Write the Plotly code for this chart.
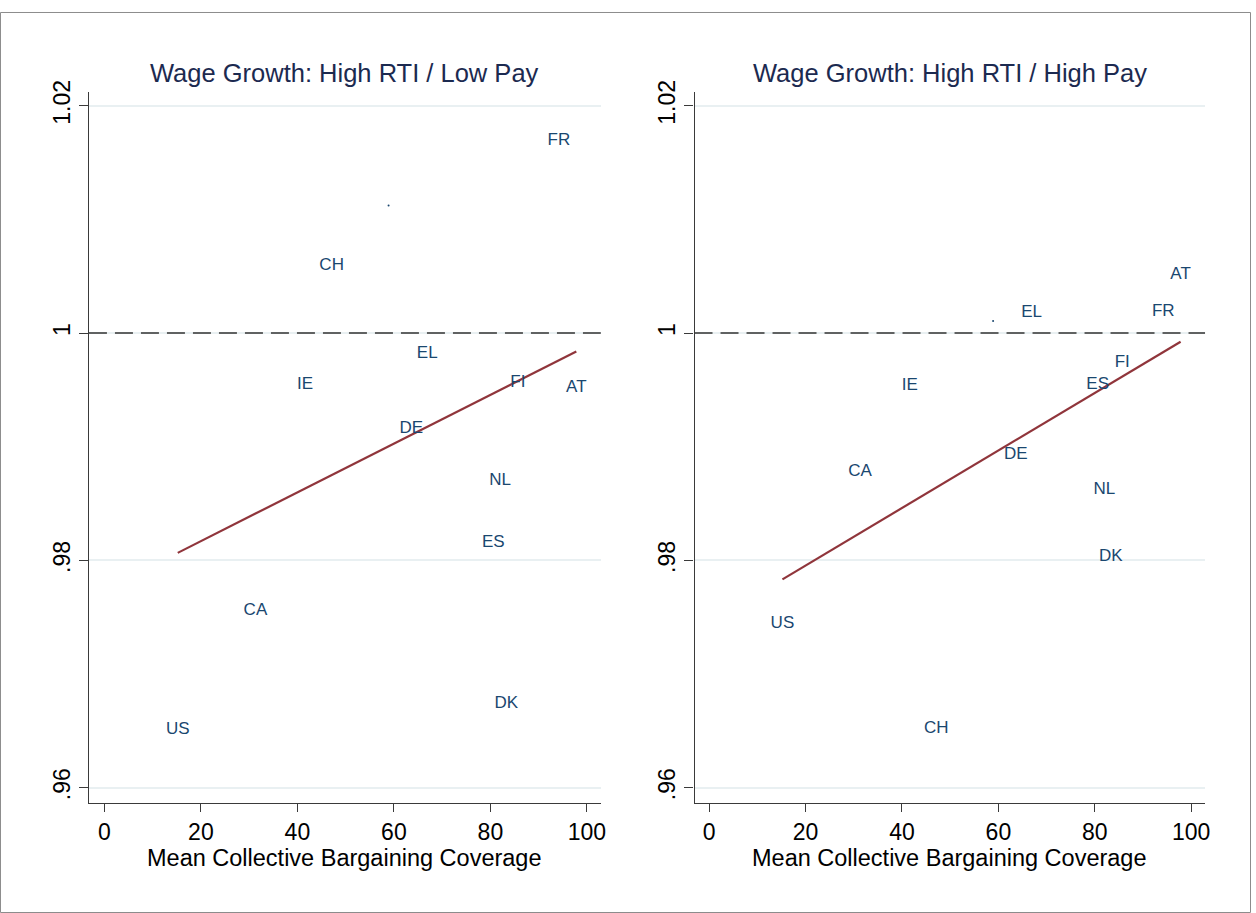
import plotly.graph_objects as go

# ---- data ----
countries = ["AT", "CA", "CH", "DE", "DK", "EL", "ES", "FI", "FR", "IE", "NL", "US"]
coverage = [97.8, 31.3, 47.1, 63.6, 83.3, 66.9, 80.6, 85.7, 94.2, 41.6, 82.0, 15.2]
wage_low_pay = [0.99516, 0.97554, 1.00593, 0.99160, 0.96738, 0.99820, 0.98153, 0.99560, 1.01696, 0.99542, 0.98700, 0.96513]
wage_high_pay = [1.00515, 0.98778, 0.96521, 0.98926, 0.98032, 1.00176, 0.99542, 0.99742, 1.00185, 0.99534, 0.98622, 0.97441]

# unlabeled observation (tiny dot)
unlabeled_cov = [58.9]
unlabeled_low = [1.01123]
unlabeled_high = [1.00107]

# fitted lines (endpoints)
fit_x = [15.2, 97.8]
fit_low = [0.98066, 0.99838]
fit_high = [0.97833, 0.99924]

titles = ["Wage Growth: High RTI / Low Pay", "Wage Growth: High RTI / High Pay"]
x_title = "Mean Collective Bargaining Coverage"
x_ticks = [0, 20, 40, 60, 80, 100]
y_ticks = [0.96, 0.98, 1.0, 1.02]
y_ticklabels = [".96", ".98", "1", "1.02"]

# ---- styling ----
W, H = 1256, 913
FONT = "Liberation Sans, Arial, sans-serif"
LABEL_COLOR = "#1a476f"
TITLE_COLOR = "#1c2a50"
FIT_COLOR = "#90353b"
AXIS_COLOR = "#3a3a3a"
GRID_COLOR = "#e9f0f2"

def px_x(p):
    return p / W

def px_y(p):
    return 1 - p / H

panels = [
    dict(xd=[px_x(89.3), px_x(603.3)], xr=[-3.2, 102.9], y=wage_low_pay, yu=unlabeled_low, fit=fit_low),
    dict(xd=[px_x(697.3), px_x(1210)], xr=[-3.04, 102.9], y=wage_high_pay, yu=unlabeled_high, fit=fit_high),
]
y_dom = [px_y(801.7), px_y(81.5)]
y_range = [0.95864, 1.02117]

fig = go.Figure()
layout = dict(
    width=W, height=H,
    margin=dict(l=0, r=0, t=0, b=0),
    paper_bgcolor="white", plot_bgcolor="white",
    showlegend=False,
    font=dict(family=FONT, color="black"),
    annotations=[], shapes=[],
)

for i, p in enumerate(panels):
    n = "" if i == 0 else str(i + 1)
    xa, ya = "x" + n, "y" + n
    # dashed reference line at 1
    fig.add_trace(go.Scatter(x=[p["xr"][0], p["xr"][1]], y=[1.0, 1.0], mode="lines",
                             line=dict(color="#333333", width=1.6, dash="18px,8px"),
                             xaxis=xa, yaxis=ya, hoverinfo="skip", cliponaxis=False))
    fig.add_trace(go.Scatter(x=fit_x, y=p["fit"], mode="lines",
                             line=dict(color=FIT_COLOR, width=2.2),
                             xaxis=xa, yaxis=ya))
    fig.add_trace(go.Scatter(x=coverage, y=p["y"], mode="text", text=countries,
                             textposition="middle center",
                             textfont=dict(family=FONT, size=17, color=LABEL_COLOR),
                             xaxis=xa, yaxis=ya))
    fig.add_trace(go.Scatter(x=unlabeled_cov, y=p["yu"], mode="markers",
                             marker=dict(size=2, color=LABEL_COLOR),
                             xaxis=xa, yaxis=ya))

    layout["xaxis" + n] = dict(
        domain=p["xd"], range=p["xr"], anchor=ya,
        tickvals=x_ticks, ticktext=[str(t) for t in x_ticks],
        ticks="outside", ticklen=8, tickwidth=1.3, tickcolor=AXIS_COLOR,
        showline=True, linecolor=AXIS_COLOR, linewidth=1.4,
        showgrid=False, zeroline=False,
        tickfont=dict(family=FONT, size=23, color="black"),
    )
    layout["yaxis" + n] = dict(
        domain=y_dom, range=y_range, anchor=xa,
        tickvals=y_ticks, ticktext=y_ticklabels, tickangle=-90,
        ticks="outside", ticklen=9, tickwidth=1.3, tickcolor=AXIS_COLOR,
        showline=True, linecolor=AXIS_COLOR, linewidth=1.4,
        showgrid=True, gridcolor=GRID_COLOR, gridwidth=2, zeroline=False,
        tickfont=dict(family=FONT, size=23, color="black"),
    )
    cx = (p["xd"][0] + p["xd"][1]) / 2
    layout["annotations"].append(dict(
        text=titles[i], xref="paper", yref="paper",
        x=cx, y=px_y(62),
        xanchor="center", yanchor="middle", showarrow=False,
        font=dict(family=FONT, size=25.5, color=TITLE_COLOR),
    ))
    layout["annotations"].append(dict(
        text=x_title, xref="paper", yref="paper",
        x=cx, y=px_y(857),
        xanchor="center", yanchor="middle", showarrow=False,
        font=dict(family=FONT, size=23.5, color="black"),
    ))

layout["shapes"].append(dict(type="rect", xref="paper", yref="paper",
                             x0=px_x(0.5), x1=px_x(W - 0.5), y0=px_y(H - 0.5), y1=px_y(0.5),
                             line=dict(color="#8c8c8c", width=1)))

fig.update_layout(**layout)
fig.write_html(
    "out.html",
    config={"displayModeBar": False},
    post_script=(
        "document.body.style.margin='0';document.body.style.padding='0';"
        "document.documentElement.style.overflow='hidden';document.body.style.overflow='hidden';"
        "var gd=document.getElementById('{plot_id}');"
        "gd.style.position='absolute';gd.style.top='0px';gd.style.left='0px';"
    ),
)
